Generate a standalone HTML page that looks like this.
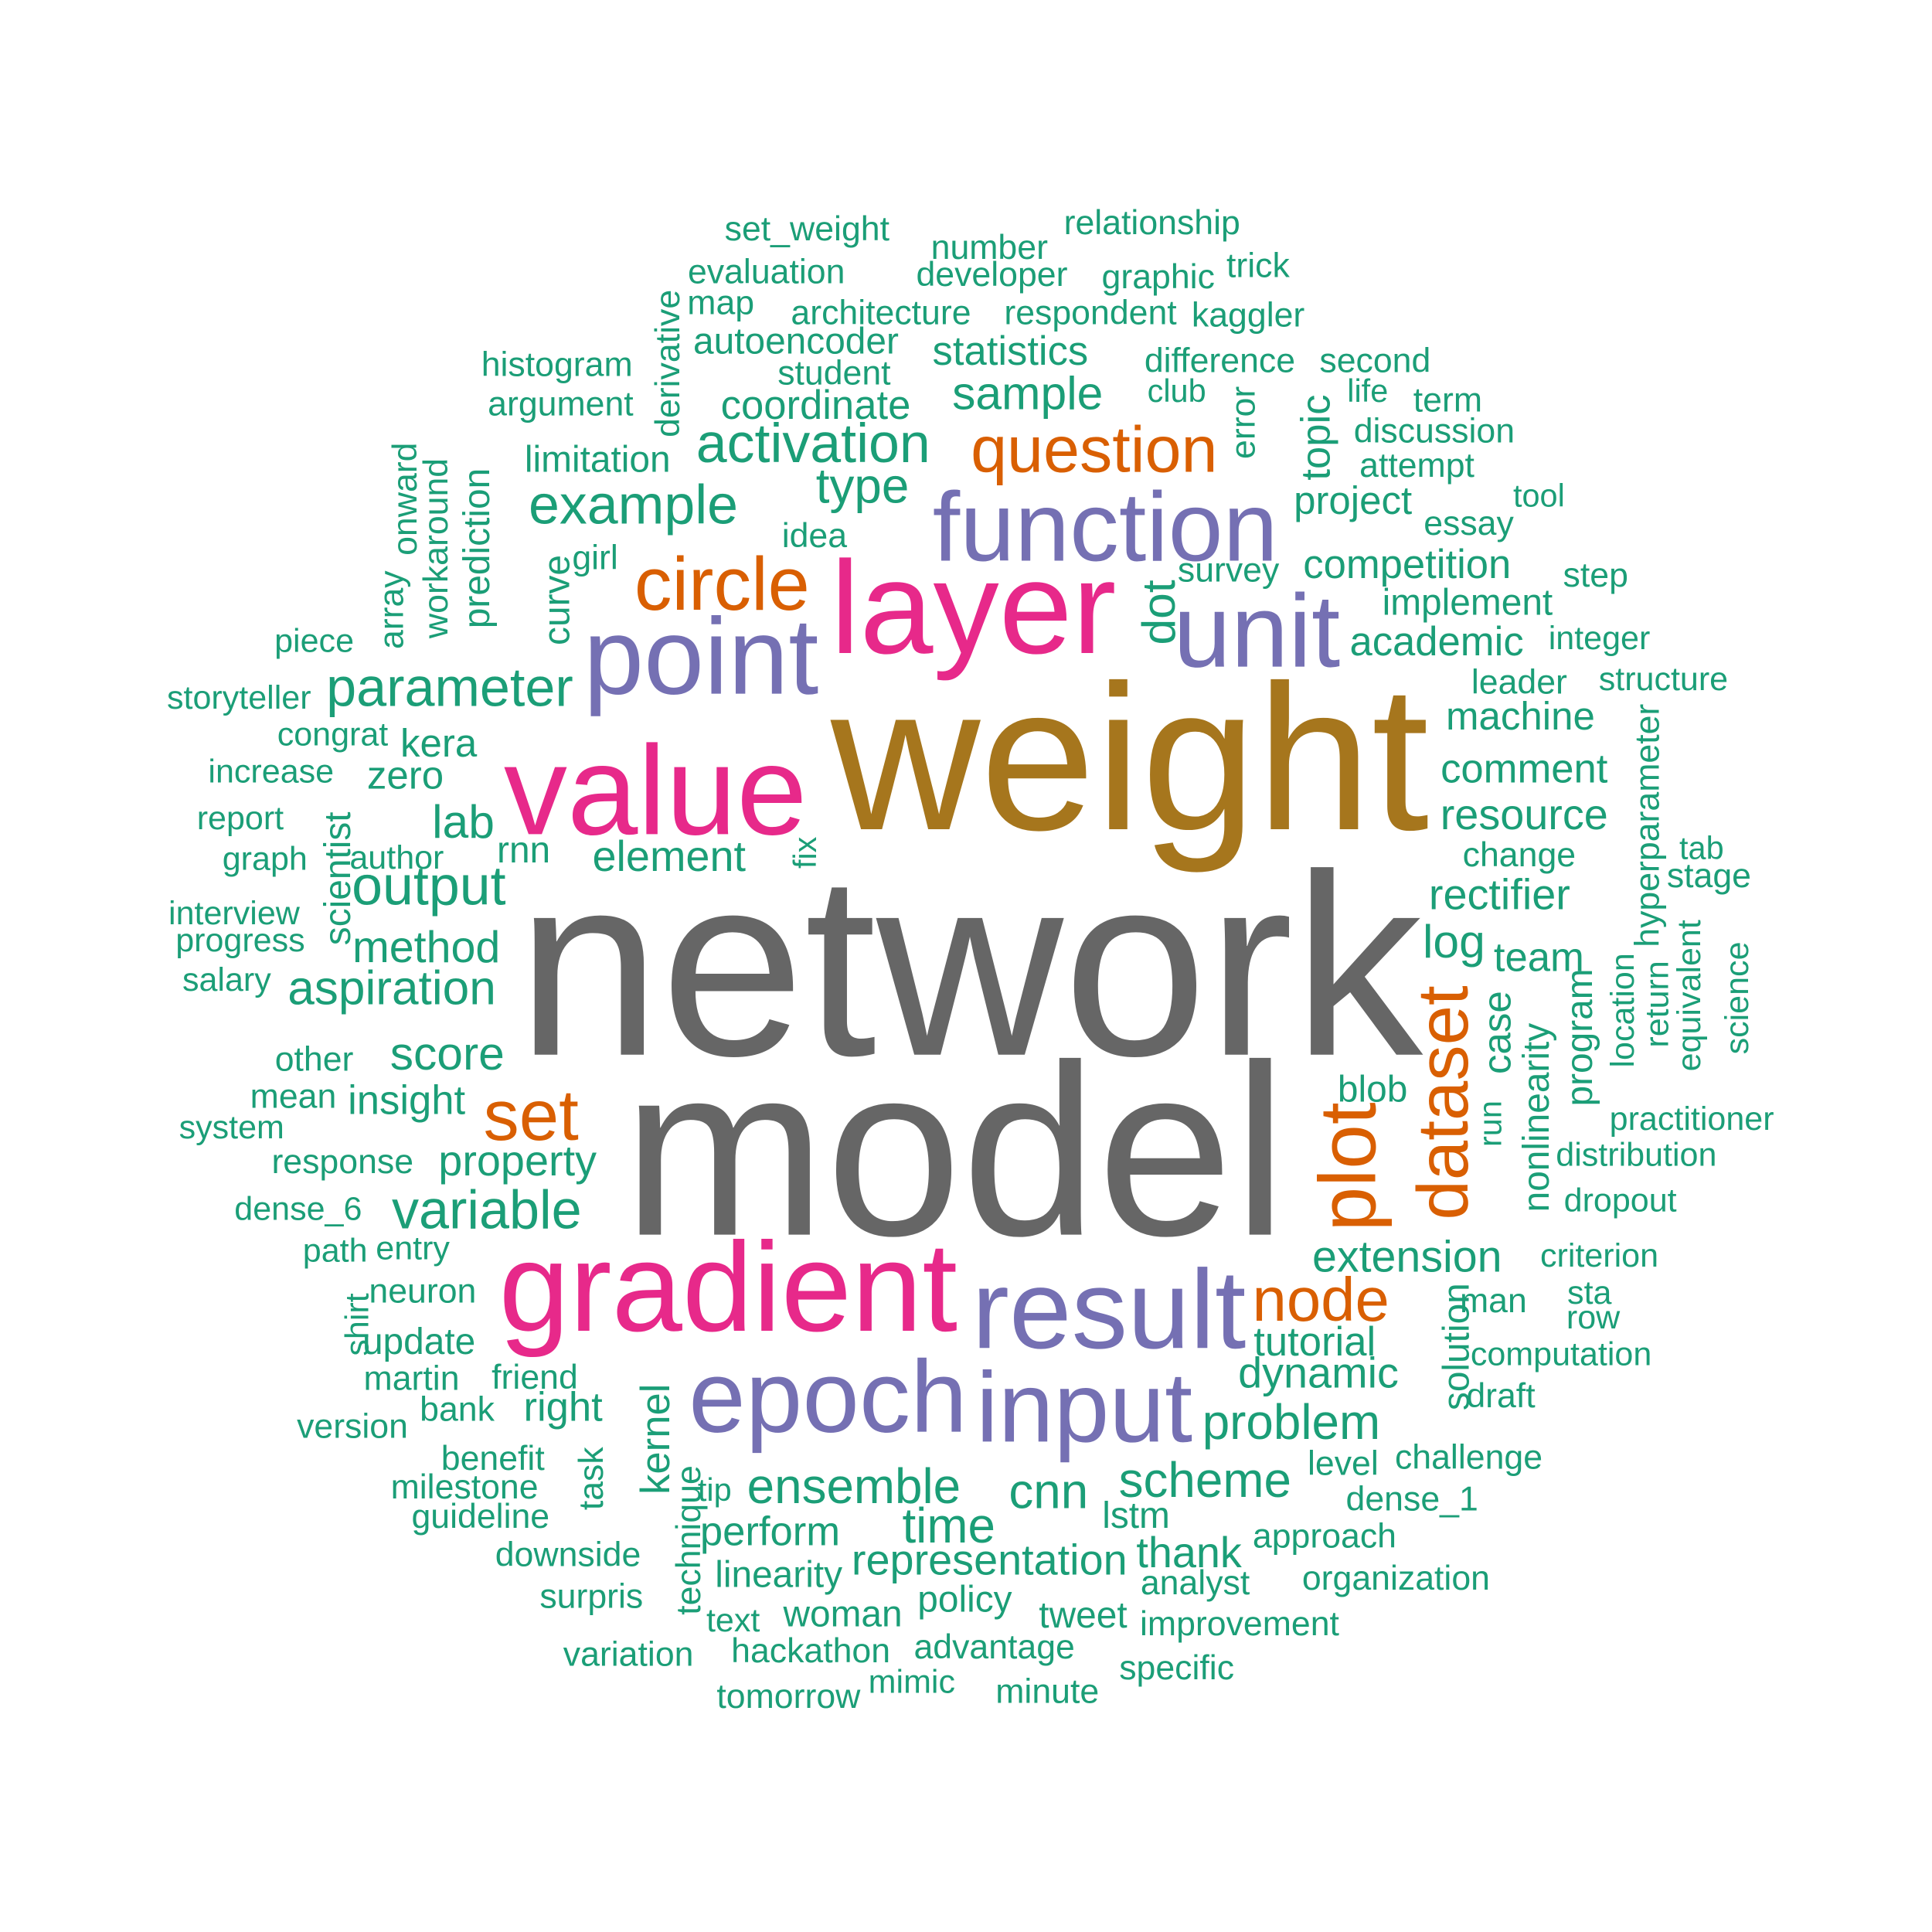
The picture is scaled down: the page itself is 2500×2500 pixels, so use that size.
<!DOCTYPE html>
<html><head><meta charset="utf-8">
<style>
html,body{margin:0;padding:0;background:#fff;}
svg{display:block;}
text{font-family:"Liberation Sans",Arial,sans-serif;}
</style></head>
<body>
<svg id="cloud" width="2500" height="2500" viewBox="0 0 1568 1568" xmlns="http://www.w3.org/2000/svg">
<rect width="1568" height="1568" fill="#fff"/>
</svg>
<script>
const G="#1b9e77",O="#d95f02",P="#7570b3",K="#e7298a",W="#a6761d",Y="#666666";
// [word, centerX, baselineY, fontSize, color, rotated]
const words=[
["network",787,856,210,Y,0],["model",775,1002,198,Y,0],["weight",917,673,168,W,0],
["value",532,677,103,K,0],["layer",790,530,107,K,0],["point",569,563,88,P,0],
["function",897,455,80,P,0],["unit",1020,541,84,P,0],["gradient",591,1080,103,K,0],
["result",900,1094,91,P,0],["epoch",672,1162,83,P,0],["input",880,1170,81,P,0],
["circle",586,495,61,O,0],["question",888,383,53,O,0],["set",431,925,58,O,0],
["node",1072,1072,50,O,0],["plot",1090,947,65,O,1],["dataset",1168,895,58,O,1],
["set_weight",655,195,28,G,0],["relationship",935,190,28,G,0],["number",803,210,28,G,0],
["evaluation",622,230,28,G,0],["developer",805,232,28,G,0],["graphic",940,234,28,G,0],
["trick",1021,225,28,G,0],["derivative",540,295,28,G,1],["map",585,255,28,G,0],
["architecture",715,263,28,G,0],["respondent",885,263,28,G,0],["kaggler",1013,265,28,G,0],
["autoencoder",646,287,30,G,0],["statistics",820,296,33,G,0],["difference",990,302,28,G,0],
["second",1116,302,28,G,0],["histogram",452,305,28,G,0],["student",677,312,28,G,0],
["club",955,326,26,G,0],["life",1110,326,26,G,0],["argument",455,337,28,G,0],
["sample",834,332,38,G,0],["coordinate",662,340,33,G,0],["error",1007,343,28,G,1],
["topic",1066,355,33,G,1],["term",1175,334,28,G,0],["discussion",1164,359,28,G,0],
["activation",660,375,45,G,0],["onward",327,405,28,G,1],["workaround",352,445,28,G,1],
["prediction",385,445,30,G,1],["limitation",485,383,30,G,0],["attempt",1150,387,28,G,0],
["type",700,408,40,G,0],["example",514,425,45,G,0],["project",1098,417,32,G,0],
["tool",1249,411,26,G,0],["essay",1192,434,28,G,0],["idea",661,444,28,G,0],
["array",316,495,28,G,1],["curve",450,487,30,G,1],["girl",483,462,28,G,0],
["dot",938,497,38,G,1],["survey",997,472,28,G,0],["competition",1142,469,33,G,0],
["step",1295,476,28,G,0],["implement",1191,499,30,G,0],["piece",255,529,27,G,0],
["academic",1166,532,33,G,0],["integer",1298,527,27,G,0],["storyteller",194,575,27,G,0],
["parameter",365,573,44,G,0],["leader",1233,563,28,G,0],["structure",1350,560,27,G,0],
["machine",1234,592,32,G,0],["hyperparameter",1335,670,28,G,1],["congrat",270,605,27,G,0],
["kera",356,614,32,G,0],["increase",220,635,27,G,0],["zero",329,640,32,G,0],
["comment",1237,635,33,G,0],["lab",376,680,38,G,0],["report",195,673,27,G,0],
["scientist",272,713,30,G,1],["fix",652,692,26,G,1],["resource",1237,673,35,G,0],
["rnn",425,700,30,G,0],["graph",215,706,27,G,0],["author",322,705,27,G,0],
["element",543,707,35,G,0],["change",1233,703,28,G,0],["tab",1381,697,26,G,0],
["output",348,734,45,G,0],["stage",1387,720,28,G,0],["rectifier",1217,738,35,G,0],
["interview",190,750,27,G,0],["log",1180,777,38,G,0],["progress",195,772,27,G,0],
["method",346,781,36,G,0],["team",1249,788,33,G,0],["location",1315,820,27,G,1],
["return",1343,815,27,G,1],["equivalent",1369,808,27,G,1],["science",1408,810,27,G,1],
["salary",184,804,27,G,0],["aspiration",318,815,39,G,0],["program",1280,842,30,G,1],
["case",1213,838,32,G,1],["nonlinearity",1245,907,30,G,1],["run",1208,912,26,G,1],
["other",255,869,28,G,0],["score",363,868,38,G,0],["mean",238,899,28,G,0],
["insight",330,904,33,G,0],["blob",1114,894,30,G,0],["system",188,924,27,G,0],
["practitioner",1373,917,27,G,0],["response",278,952,28,G,0],["property",420,954,35,G,0],
["distribution",1328,946,27,G,0],["dense_6",242,990,27,G,0],["variable",395,997,44,G,0],
["dropout",1315,983,27,G,0],["path",272,1024,27,G,0],["entry",335,1022,27,G,0],
["extension",1142,1032,36,G,0],["criterion",1298,1028,27,G,0],["neuron",343,1057,28,G,0],
["shirt",288,1075,27,G,1],["sta",1290,1058,27,G,0],["man",1212,1065,28,G,0],
["solution",1180,1093,30,G,1],["row",1293,1078,27,G,0],["update",340,1099,30,G,0],
["tutorial",1067,1100,33,G,0],["computation",1267,1108,27,G,0],["martin",334,1128,28,G,0],
["friend",434,1127,28,G,0],["dynamic",1070,1126,35,G,0],["version",286,1167,28,G,0],
["bank",371,1153,28,G,0],["right",457,1153,33,G,0],["kernel",530,1168,33,G,1],
["draft",1218,1142,28,G,0],["problem",1048,1168,40,G,0],["benefit",400,1193,28,G,0],
["task",478,1200,28,G,1],["technique",557,1250,28,G,1],["level",1090,1197,28,G,0],
["challenge",1192,1192,28,G,0],["milestone",377,1216,28,G,0],["tip",580,1218,26,G,0],
["ensemble",693,1220,40,G,0],["cnn",851,1224,40,G,0],["scheme",978,1215,40,G,0],
["dense_1",1146,1226,28,G,0],["guideline",390,1240,28,G,0],["lstm",922,1240,30,G,0],
["time",770,1252,40,G,0],["perform",625,1254,33,G,0],["approach",1075,1256,28,G,0],
["downside",461,1271,28,G,0],["thank",965,1272,35,G,0],["representation",803,1278,35,G,0],
["linearity",632,1288,30,G,0],["analyst",970,1294,28,G,0],["organization",1133,1290,28,G,0],
["surpris",480,1305,28,G,0],["policy",783,1308,30,G,0],["woman",684,1320,30,G,0],
["tweet",879,1321,30,G,0],["text",595,1324,27,G,0],["improvement",1006,1327,28,G,0],
["advantage",807,1346,28,G,0],["hackathon",658,1349,28,G,0],["variation",510,1352,28,G,0],
["specific",955,1363,28,G,0],["mimic",740,1374,27,G,0],["minute",850,1382,28,G,0],
["tomorrow",640,1386,28,G,0]
];
const svg=document.getElementById('cloud');
const NS="http://www.w3.org/2000/svg";
for(const w of words){
  const t=document.createElementNS(NS,'text');
  t.textContent=w[0];
  t.setAttribute('font-size',w[3]);
  t.setAttribute('fill',w[4]);
  t.setAttribute('text-anchor','middle');
  if(w[5]){
    t.setAttribute('transform','translate('+(w[1]+0.4*w[3])+','+w[2]+') rotate(-90)');
  }else{
    t.setAttribute('x',w[1]);t.setAttribute('y',w[2]);
  }
  
  
  svg.appendChild(t);
}
</script>
</body></html>
